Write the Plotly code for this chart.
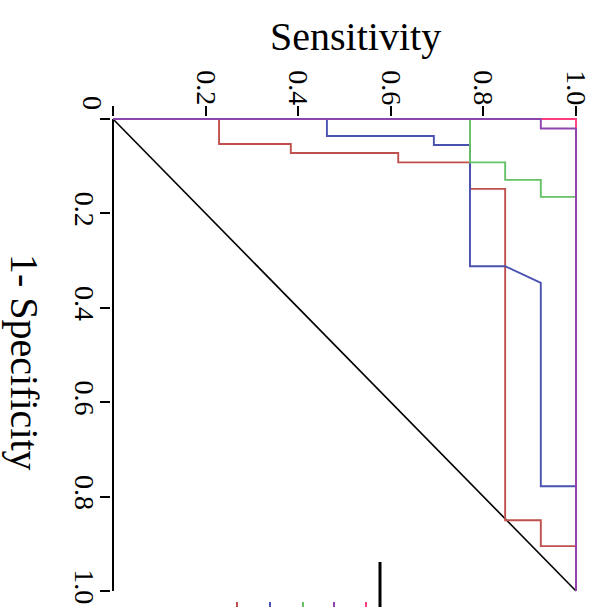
import plotly.graph_objects as go

# ---- data (Sensitivity along the top axis, 1-Specificity down the left axis) ----
red_sens  = [0, 0.229, 0.229, 0.384, 0.384, 0.616, 0.616, 0.771, 0.771, 0.847, 0.847, 0.924, 0.924, 1.0, 1.0]
red_fpr   = [0, 0,     0.053, 0.053, 0.072, 0.072, 0.092, 0.092, 0.148, 0.148, 0.850, 0.850, 0.905, 0.905, 1.0]

blue_sens = [0, 0.462, 0.462, 0.693, 0.693, 0.771, 0.771, 0.847, 0.924, 0.924, 1.0, 1.0]
blue_fpr  = [0, 0,     0.036, 0.036, 0.055, 0.055, 0.312, 0.312, 0.347, 0.778, 0.778, 1.0]

green_sens = [0, 0.771, 0.771, 0.847, 0.847, 0.924, 0.924, 1.0, 1.0]
green_fpr  = [0, 0,     0.092, 0.092, 0.129, 0.129, 0.165, 0.165, 1.0]

pink_sens = [0, 1.0, 1.0]
pink_fpr  = [0, 0,   1.0]

purple_sens = [0, 0.924, 0.924, 1.0, 1.0]
purple_fpr  = [0, 0,     0.020, 0.020, 1.0]

ref_sens = [0, 1]
ref_fpr  = [0, 1]

tick_vals = [0, 0.2, 0.4, 0.6, 0.8, 1.0]
tick_text = ["", "0.2", "0.4", "0.6", "0.8", "1.0"]

legend_colors = ["#C0504D", "#4A52B0", "#66C266", "#8E44AD", "#FF3D7F"]

FONT = "Liberation Serif, Times New Roman, serif"

fig = go.Figure()
fig.add_trace(go.Scatter(x=ref_sens, y=ref_fpr, mode="lines",
                         line=dict(color="black", width=1.6)))
series = [
    (red_sens, red_fpr, "#C0504D"),
    (blue_sens, blue_fpr, "#4A52B0"),
    (green_sens, green_fpr, "#66C266"),
    (pink_sens, pink_fpr, "#FF3D7F"),
    (purple_sens, purple_fpr, "#8E44AD"),
]
for xs, ys, c in series:
    fig.add_trace(go.Scatter(x=xs, y=ys, mode="lines", line=dict(color=c, width=1.9)))

# pixel frame: data 0..1 spans x 113..576 and y 119..591; plot area padded 2 px each side
X0, Y0, UW, UH = 113, 119, 463, 472
PAD = 2
L, T, W, H = X0 - PAD, Y0 - PAD, UW + 2 * PAD, UH + 2 * PAD
ex, ey = PAD / UW, PAD / UH

def px(x):
    return (x - L) / W

def py(y):
    return (T + H - y) / H

shapes = [
    # axis lines at sensitivity 0 and 1-specificity 0
    dict(type="line", xref="x", yref="y", x0=0, x1=1, y0=0, y1=0, layer="below",
         line=dict(color="black", width=2)),
    dict(type="line", xref="x", yref="y", x0=0, x1=0, y0=0, y1=1, layer="below",
         line=dict(color="black", width=2)),
    # clipped legend fragment at the bottom
    dict(type="line", xref="paper", yref="paper",
         x0=px(380), x1=px(380), y0=py(562), y1=py(610),
         line=dict(color="black", width=3)),
]
for xc, c in zip([237, 270, 303, 334, 366], legend_colors):
    shapes.append(dict(type="line", xref="paper", yref="paper",
                       x0=px(xc), x1=px(xc), y0=py(602), y1=py(610),
                       line=dict(color=c, width=2)))

axis_common = dict(tickvals=tick_vals, ticktext=tick_text, tickangle=90,
                   ticks="outside", ticklen=10, tickwidth=1.5, tickcolor="black",
                   ticklabelstandoff=-9,
                   showline=False, showgrid=False, zeroline=False, automargin=False,
                   tickfont=dict(family=FONT, size=28, color="black"))

fig.update_layout(
    width=598, height=607,
    margin=dict(l=L, r=598 - L - W, t=T, b=607 - T - H, autoexpand=False),
    paper_bgcolor="white", plot_bgcolor="white",
    showlegend=False,
    font=dict(family=FONT, color="black"),
    xaxis=dict(side="top", range=[-ex, 1 + ex], **axis_common),
    yaxis=dict(range=[1 + ey, -ey], **axis_common),
    shapes=shapes,
    annotations=[
        dict(text="Sensitivity", xref="paper", yref="paper", x=px(355), y=py(37),
             xanchor="center", yanchor="middle",
             showarrow=False, font=dict(family=FONT, size=40, color="black")),
        dict(text="1- Specificity", xref="paper", yref="paper", x=px(25), y=py(362),
             xanchor="center", yanchor="middle",
             textangle=90, showarrow=False, font=dict(family=FONT, size=40, color="black")),
        dict(text="0", xref="paper", yref="paper", x=px(93), y=py(103),
             xanchor="center", yanchor="middle",
             textangle=90, showarrow=False, font=dict(family=FONT, size=28, color="black")),
    ],
)

fig.write_html("out.html", config={"displayModeBar": False},
               post_script="document.body.style.margin='0px';")
